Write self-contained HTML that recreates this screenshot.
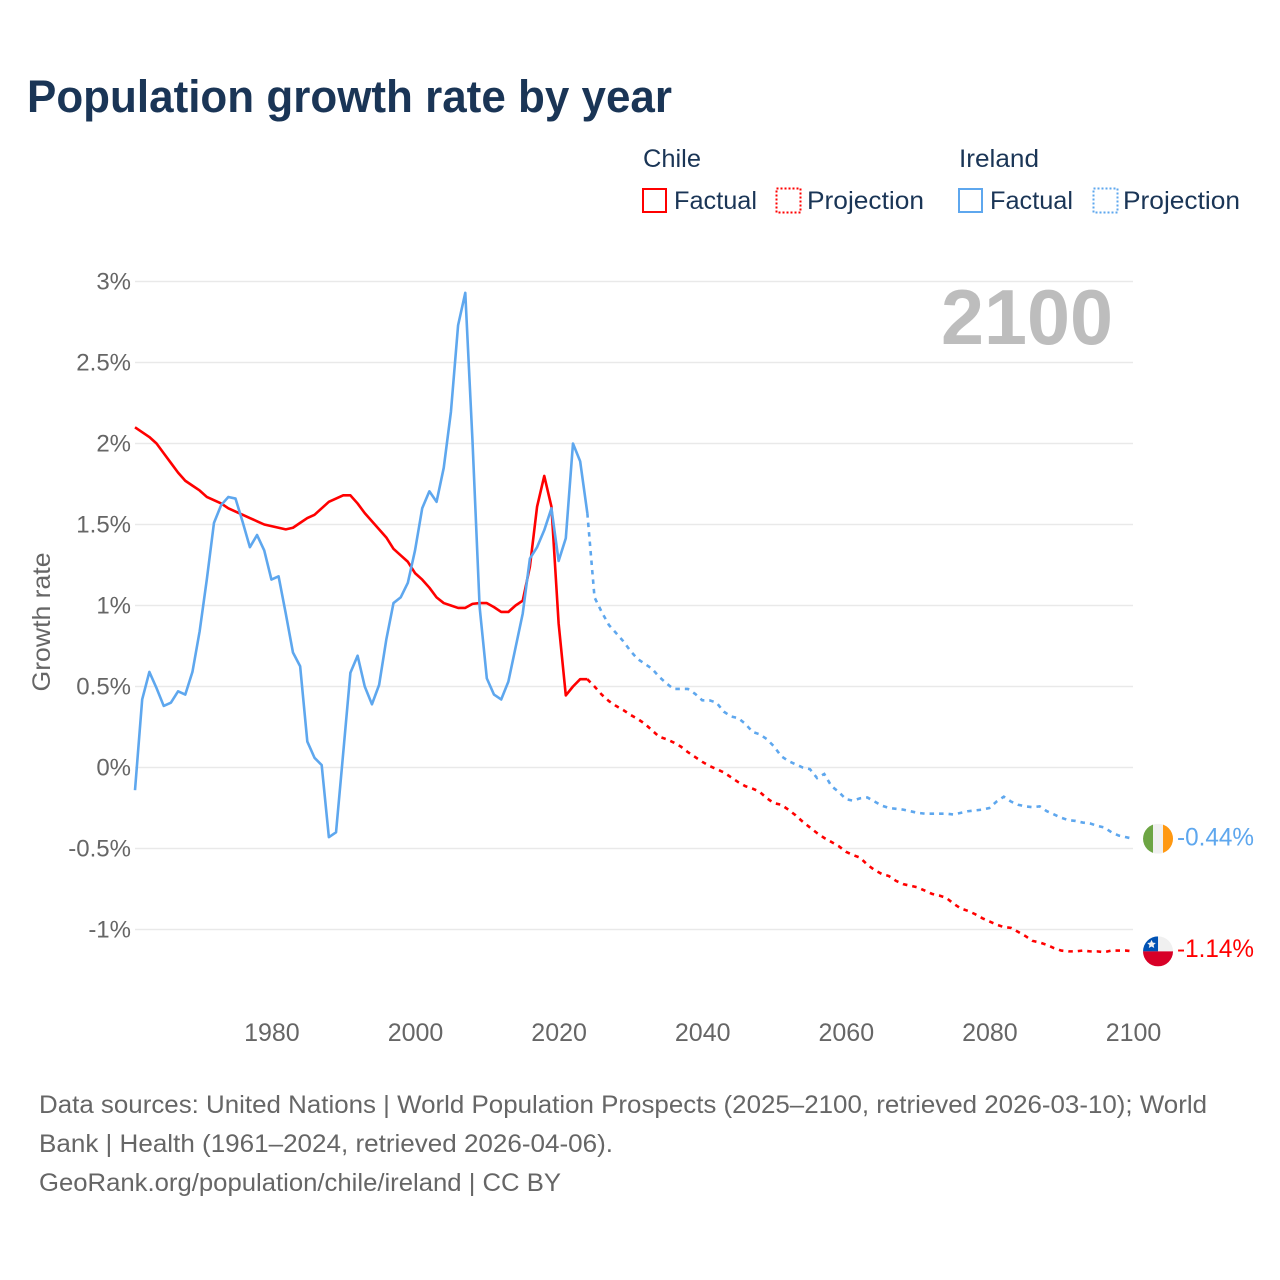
<!DOCTYPE html>
<html lang="en">
<head>
<meta charset="utf-8">
<title>Population growth rate by year</title>
<style>
html,body{margin:0;padding:0;background:#fff;width:1280px;height:1280px;overflow:hidden}
svg{display:block;font-family:"Liberation Sans",sans-serif}
</style>
</head>
<body>
<svg id="chart" width="1280" height="1280" viewBox="0 0 1280 1280" xmlns="http://www.w3.org/2000/svg">
  <rect width="1280" height="1280" fill="#fff"/>
  <text x="27" y="112" font-size="45" font-weight="700" fill="#1a3556" textLength="645" lengthAdjust="spacingAndGlyphs">Population growth rate by year</text>

  <g font-size="25" fill="#1a3556">
    <text x="643" y="167" textLength="58" lengthAdjust="spacingAndGlyphs">Chile</text>
    <text x="959" y="167" textLength="80" lengthAdjust="spacingAndGlyphs">Ireland</text>
    <rect x="643" y="189" width="23" height="23" fill="none" stroke="#ff0000" stroke-width="2"/>
    <text x="674" y="209" textLength="83" lengthAdjust="spacingAndGlyphs">Factual</text>
    <rect x="776.5" y="188.5" width="24" height="24" fill="none" stroke="#ff0000" stroke-width="2" stroke-dasharray="2 2"/>
    <text x="807" y="209" textLength="117" lengthAdjust="spacingAndGlyphs">Projection</text>
    <rect x="959" y="189" width="23" height="23" fill="none" stroke="#5ea7ee" stroke-width="2"/>
    <text x="990" y="209" textLength="83" lengthAdjust="spacingAndGlyphs">Factual</text>
    <rect x="1093.5" y="188.5" width="24" height="24" fill="none" stroke="#5ea7ee" stroke-width="2" stroke-dasharray="2 2"/>
    <text x="1123" y="209" textLength="117" lengthAdjust="spacingAndGlyphs">Projection</text>
  </g>

  <g id="grid"></g>
  <g id="yTicks"></g>
  <g id="xTicks"></g>

  <text transform="translate(50,622) rotate(-90)" text-anchor="middle" font-size="25" fill="#666" textLength="139" lengthAdjust="spacingAndGlyphs">Growth rate</text>
  <text x="941" y="344" font-size="78" font-weight="700" fill="#bdbdbd" textLength="172" lengthAdjust="spacingAndGlyphs">2100</text>

  <g id="series"></g>

  <defs>
    <clipPath id="clipIreland"><circle cx="0" cy="0" r="15"/></clipPath>
    <clipPath id="clipChile"><circle cx="0" cy="0" r="15"/></clipPath>
  </defs>
  <g id="flagIreland">
    <g clip-path="url(#clipIreland)">
      <rect x="-15" y="-15" width="10" height="30" fill="#6da544"/>
      <rect x="-5" y="-15" width="10" height="30" fill="#f0f0f0"/>
      <rect x="5" y="-15" width="10" height="30" fill="#ff9811"/>
    </g>
  </g>
  <g id="flagChile">
    <g clip-path="url(#clipChile)">
      <rect x="-15" y="-15" width="30" height="15" fill="#f0f0f0"/>
      <rect x="-15" y="-15" width="15" height="15" fill="#0052b4"/>
      <rect x="-15" y="0" width="30" height="15" fill="#d80027"/>
      <polygon points="-6.5,-11.5 -5.2,-8.7 -2.2,-8.4 -4.4,-6.4 -3.8,-3.4 -6.5,-4.9 -9.2,-3.4 -8.6,-6.4 -10.8,-8.4 -7.8,-8.7" fill="#f0f0f0"/>
    </g>
  </g>
  <text id="labelIreland" x="1177" font-size="25" fill="#5ea7ee" textLength="77" lengthAdjust="spacingAndGlyphs"></text>
  <text id="labelChile" x="1177" font-size="25" fill="#ff0000" textLength="77" lengthAdjust="spacingAndGlyphs"></text>

  <g font-size="25" fill="#666">
    <text x="39" y="1113" textLength="1168" lengthAdjust="spacingAndGlyphs">Data sources: United Nations | World Population Prospects (2025–2100, retrieved 2026-03-10); World</text>
    <text x="39" y="1152" textLength="574" lengthAdjust="spacingAndGlyphs">Bank | Health (1961–2024, retrieved 2026-04-06).</text>
    <text x="39" y="1191" textLength="522" lengthAdjust="spacingAndGlyphs">GeoRank.org/population/chile/ireland | CC BY</text>
  </g>
</svg>
<script>
const factualStartYear = 1961;
const projectionStartYear = 2025;
const yTickValues = [3, 2.5, 2, 1.5, 1, 0.5, 0, -0.5, -1];
const yTickLabels = ["3%", "2.5%", "2%", "1.5%", "1%", "0.5%", "0%", "-0.5%", "-1%"];
const xTickYears = [1980, 2000, 2020, 2040, 2060, 2080, 2100];
const chileFactual = [
  2.10,2.07,2.04,2.00,1.94,1.88,1.82,1.77,1.74,1.71,
  1.67,1.65,1.63,1.60,1.58,1.56,1.54,1.52,1.50,1.49,
  1.48,1.47,1.48,1.51,1.54,1.56,1.60,1.64,1.66,1.68,
  1.68,1.63,1.57,1.52,1.47,1.42,1.35,1.31,1.27,1.20,
  1.16,1.11,1.05,1.015,1.00,0.985,0.985,1.01,1.015,1.015,
  0.99,0.96,0.96,1.00,1.03,1.24,1.61,1.80,1.61,0.89,
  0.445,0.50,0.545,0.545
];
const chileProjection = [
  0.50,0.45,0.41,0.38,0.355,0.325,
  0.30,0.27,0.23,0.19,0.175,0.155,0.13,0.095,0.065,0.035,
  0.01,-0.01,-0.03,-0.06,-0.09,-0.115,-0.13,-0.15,-0.19,-0.22,
  -0.23,-0.26,-0.295,-0.335,-0.37,-0.405,-0.435,-0.46,-0.485,-0.52,
  -0.54,-0.557,-0.60,-0.633,-0.657,-0.67,-0.70,-0.72,-0.73,-0.74,
  -0.76,-0.78,-0.79,-0.805,-0.84,-0.87,-0.885,-0.905,-0.93,-0.95,
  -0.97,-0.985,-0.99,-1.015,-1.04,-1.07,-1.08,-1.095,-1.115,-1.13,
  -1.135,-1.135,-1.13,-1.135,-1.135,-1.14,-1.13,-1.13,-1.13,-1.135
];
const irelandFactual = [
  -0.14,0.42,0.59,0.49,0.38,0.40,0.47,0.45,0.59,0.84,
  1.16,1.51,1.62,1.67,1.66,1.515,1.36,1.435,1.34,1.16,
  1.18,0.95,0.71,0.625,0.16,0.06,0.015,-0.43,-0.40,0.09,
  0.585,0.69,0.50,0.39,0.51,0.79,1.015,1.05,1.14,1.34,
  1.60,1.705,1.64,1.85,2.195,2.73,2.93,2.02,0.99,0.55,
  0.45,0.42,0.53,0.74,0.95,1.29,1.36,1.465,1.60,1.275,
  1.415,2.00,1.89,1.57
];
const irelandProjection = [
  1.05,0.96,0.88,0.83,0.78,0.72,
  0.67,0.64,0.61,0.56,0.52,0.485,0.485,0.485,0.455,0.415,
  0.415,0.40,0.345,0.315,0.305,0.27,0.22,0.205,0.175,0.13,
  0.07,0.04,0.02,0.00,-0.01,-0.065,-0.04,-0.115,-0.15,-0.195,
  -0.205,-0.19,-0.185,-0.21,-0.235,-0.25,-0.255,-0.26,-0.27,-0.28,
  -0.285,-0.285,-0.285,-0.285,-0.29,-0.28,-0.27,-0.265,-0.26,-0.25,
  -0.21,-0.18,-0.21,-0.23,-0.24,-0.245,-0.24,-0.27,-0.29,-0.31,
  -0.325,-0.33,-0.34,-0.345,-0.36,-0.37,-0.40,-0.42,-0.43,-0.44
];
const chileEndLabel = "-1.14%";
const irelandEndLabel = "-0.44%";

const NS = "http://www.w3.org/2000/svg";
function xScale(year) { return 135 + (year - 1961) * 7.18; }
function yScale(value) { return 767.5 - value * 162; }

const gridGroup = document.getElementById("grid");
const yTickGroup = document.getElementById("yTicks");
yTickValues.forEach(function (v, i) {
  const line = document.createElementNS(NS, "line");
  
  
  line.setAttribute("x1", xScale(1961));
  line.setAttribute("x2", xScale(2100));
  line.setAttribute("y1", yScale(v));
  line.setAttribute("y2", yScale(v));
  line.setAttribute("stroke", "#e9e9e9");
  line.setAttribute("stroke-width", "1.5");
  gridGroup.appendChild(line);

  const t = document.createElementNS(NS, "text");
  
  
  t.setAttribute("x", 131);
  t.setAttribute("y", yScale(v) + 8);
  t.setAttribute("text-anchor", "end");
  t.setAttribute("font-size", "24");
  t.setAttribute("fill", "#666");
  t.textContent = yTickLabels[i];
  yTickGroup.appendChild(t);
});

const xTickGroup = document.getElementById("xTicks");
xTickYears.forEach(function (year) {
  const t = document.createElementNS(NS, "text");
  
  
  t.setAttribute("x", xScale(year) + 0.5);
  t.setAttribute("y", 1041);
  t.setAttribute("text-anchor", "middle");
  t.setAttribute("font-size", "25");
  t.setAttribute("fill", "#666");
  t.textContent = String(year);
  xTickGroup.appendChild(t);
});

function pointsFrom(values, startYear, seed) {
  const pts = seed ? [seed] : [];
  values.forEach(function (v, i) {
    pts.push(xScale(startYear + i).toFixed(2) + "," + yScale(v).toFixed(2));
  });
  return pts.join(" ");
}

const seriesGroup = document.getElementById("series");
function lastPoint(values, startYear) {
  const i = values.length - 1;
  return xScale(startYear + i).toFixed(2) + "," + yScale(values[i]).toFixed(2);
}

const chileFactualLine = document.createElementNS(NS, "polyline");


chileFactualLine.setAttribute("points", pointsFrom(chileFactual, factualStartYear));
chileFactualLine.setAttribute("fill", "none");
chileFactualLine.setAttribute("stroke", "#ff0000");
chileFactualLine.setAttribute("stroke-width", "2.6");
chileFactualLine.setAttribute("stroke-linejoin", "round");

const chileProjectionLine = document.createElementNS(NS, "polyline");


chileProjectionLine.setAttribute("points", pointsFrom(chileProjection, projectionStartYear, lastPoint(chileFactual, factualStartYear)));
chileProjectionLine.setAttribute("fill", "none");
chileProjectionLine.setAttribute("stroke", "#ff0000");
chileProjectionLine.setAttribute("stroke-width", "2.6");
chileProjectionLine.setAttribute("stroke-dasharray", "4.5 5");

const irelandFactualLine = document.createElementNS(NS, "polyline");


irelandFactualLine.setAttribute("points", pointsFrom(irelandFactual, factualStartYear));
irelandFactualLine.setAttribute("fill", "none");
irelandFactualLine.setAttribute("stroke", "#5ea7ee");
irelandFactualLine.setAttribute("stroke-width", "2.6");
irelandFactualLine.setAttribute("stroke-linejoin", "round");

const irelandProjectionLine = document.createElementNS(NS, "polyline");


irelandProjectionLine.setAttribute("points", pointsFrom(irelandProjection, projectionStartYear, lastPoint(irelandFactual, factualStartYear)));
irelandProjectionLine.setAttribute("fill", "none");
irelandProjectionLine.setAttribute("stroke", "#5ea7ee");
irelandProjectionLine.setAttribute("stroke-width", "2.6");
irelandProjectionLine.setAttribute("stroke-dasharray", "4.5 5");

seriesGroup.appendChild(chileFactualLine);
seriesGroup.appendChild(irelandFactualLine);
seriesGroup.appendChild(chileProjectionLine);
seriesGroup.appendChild(irelandProjectionLine);

const chileEnd = chileProjection[chileProjection.length - 1];
const irelandEnd = irelandProjection[irelandProjection.length - 1];

const flagX = xScale(2100) + 25;
document.getElementById("flagChile").setAttribute("transform", "translate(" + flagX + "," + yScale(chileEnd) + ")");
document.getElementById("flagIreland").setAttribute("transform", "translate(" + flagX + "," + yScale(irelandEnd) + ")");
const labelChile = document.getElementById("labelChile");
labelChile.textContent = chileEndLabel;
labelChile.setAttribute("y", yScale(chileEnd) + 5.5);
const labelIreland = document.getElementById("labelIreland");
labelIreland.textContent = irelandEndLabel;
labelIreland.setAttribute("y", yScale(irelandEnd) + 6.5);
</script>
</body>
</html>
